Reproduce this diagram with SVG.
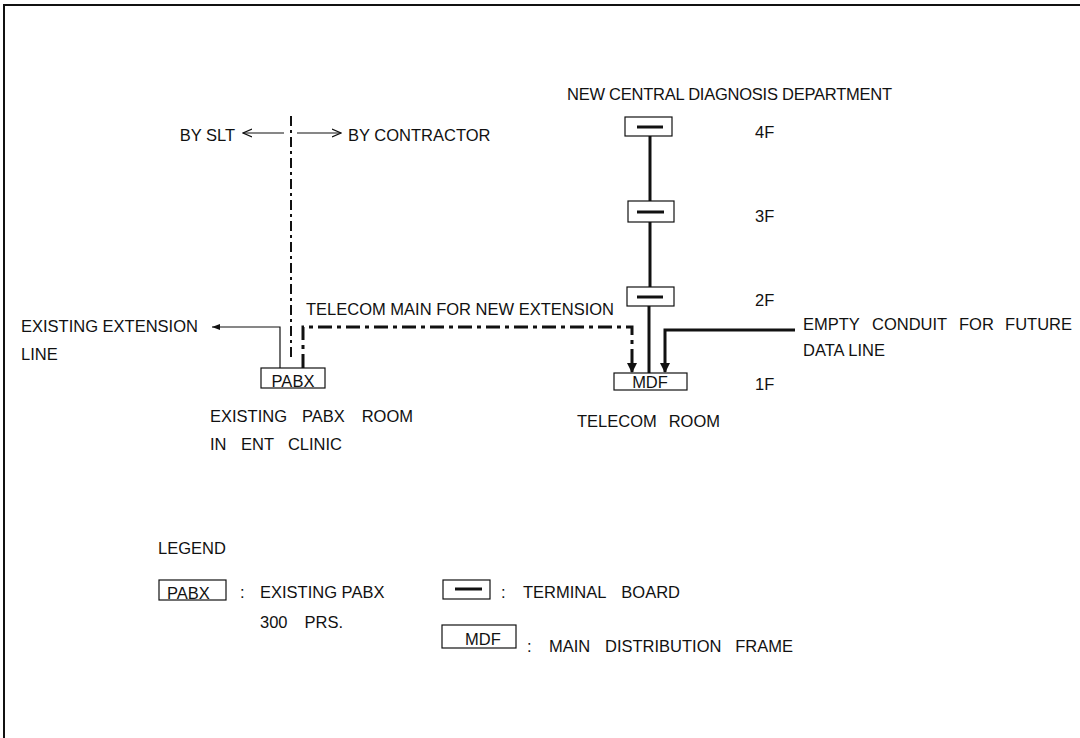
<svg xmlns="http://www.w3.org/2000/svg" width="1080" height="738" viewBox="0 0 1080 738">
<style>
text{font-family:"Liberation Sans",Arial,sans-serif;font-size:16.5px;fill:#111}
.e{text-anchor:end}
.m{text-anchor:middle}
.box{fill:#fff;stroke:#111;stroke-width:1.2}
.bar{stroke:#111;stroke-width:3}
.thin{stroke:#111;stroke-width:1.2;fill:none}
.thick{stroke:#111;stroke-width:3;fill:none}
.dd{stroke:#111;stroke-width:3;fill:none;stroke-dasharray:14,5,4,5}
.dv{stroke:#111;stroke-width:2;fill:none;stroke-dasharray:10,4,3,4}
</style>
<defs>
<marker id="fa" markerWidth="10" markerHeight="10" refX="9" refY="5" orient="auto" markerUnits="userSpaceOnUse"><path d="M0,0 L10,5 L0,10 Z" fill="#111"/></marker>
<marker id="fs" markerWidth="8" markerHeight="6" refX="8" refY="3" orient="auto" markerUnits="userSpaceOnUse"><path d="M0,0 L8,3 L0,6 Z" fill="#111"/></marker>
<marker id="oa" markerWidth="10" markerHeight="10" refX="9" refY="5" orient="auto" markerUnits="userSpaceOnUse"><path d="M0,1 L9,5 L0,9" fill="none" stroke="#111" stroke-width="1.2"/></marker>
</defs>
<rect width="1080" height="738" fill="#fff"/>
<path d="M4,738 V5 H1080" fill="none" stroke="#111" stroke-width="2"/>

<g id="connectors">
<line class="dv" x1="291" y1="116" x2="291" y2="360"/>
<line class="thin" x1="284" y1="133" x2="243" y2="133" marker-end="url(#oa)"/>
<line class="thin" x1="297" y1="133" x2="341" y2="133" marker-end="url(#oa)"/>
<path class="thin" d="M280,368 V327 H212" marker-end="url(#fs)"/>
<path class="dd" d="M303,368 V327 H632 V372" marker-end="url(#fa)"/>
<path class="thick" d="M795,330 H665 V372" marker-end="url(#fa)"/>
<line class="thick" x1="650" y1="136" x2="650" y2="201"/>
<line class="thick" x1="650" y1="222" x2="650" y2="287"/>
<line class="thick" x1="649" y1="306" x2="649" y2="373"/>
</g>

<g id="tb4F"><rect class="box" x="625" y="117" width="47" height="19"/><line class="bar" x1="637" y1="127" x2="663" y2="127"/></g>
<g id="tb3F"><rect class="box" x="628" y="201" width="46" height="21"/><line class="bar" x1="637" y1="212" x2="664" y2="212"/></g>
<g id="tb2F"><rect class="box" x="627" y="287" width="47" height="19"/><line class="bar" x1="637" y1="297" x2="663" y2="297"/></g>
<g id="mdf"><rect class="box" x="614" y="373" width="73" height="17"/><text class="m" x="650" y="388">MDF</text></g>
<g id="pabx"><rect class="box" x="261" y="368" width="64" height="20"/><text class="m" x="293" y="387">PABX</text></g>

<g id="labels">
<text x="567" y="100" textLength="325">NEW CENTRAL DIAGNOSIS DEPARTMENT</text>
<text class="e" x="235" y="141">BY SLT</text>
<text x="348" y="141">BY CONTRACTOR</text>
<text x="755" y="138">4F</text>
<text x="755" y="222">3F</text>
<text x="755" y="306">2F</text>
<text x="755" y="390">1F</text>
<text x="306" y="315">TELECOM MAIN FOR NEW EXTENSION</text>
<text x="21" y="332">EXISTING EXTENSION</text>
<text x="21" y="360">LINE</text>
<text x="803" y="330">EMPTY</text>
<text x="872" y="330">CONDUIT</text>
<text x="959" y="330">FOR</text>
<text class="e" x="1072" y="330">FUTURE</text>
<text x="803" y="356">DATA LINE</text>
<text x="210" y="422">EXISTING</text>
<text x="302" y="422">PABX</text>
<text class="e" x="413" y="422">ROOM</text>
<text x="210" y="450">IN</text>
<text x="241" y="450">ENT</text>
<text class="e" x="342" y="450">CLINIC</text>
<text x="577" y="427">TELECOM</text>
<text class="e" x="720" y="427">ROOM</text>
</g>

<g id="legend">
<text x="158" y="554">LEGEND</text>
<rect class="box" x="159" y="580" width="67" height="20"/>
<text x="167" y="599">PABX</text>
<text x="240" y="598">:</text>
<text x="260" y="598">EXISTING PABX</text>
<text x="260" y="628">300</text>
<text class="e" x="343" y="628">PRS.</text>
<rect class="box" x="443" y="580" width="47" height="19"/>
<line class="bar" x1="455" y1="589" x2="482" y2="589"/>
<text x="501" y="598">:</text>
<text x="523" y="598">TERMINAL</text>
<text class="e" x="680" y="598">BOARD</text>
<rect class="box" x="442" y="625" width="74" height="23"/>
<text x="465" y="645">MDF</text>
<text x="527" y="652">:</text>
<text x="549" y="652">MAIN</text>
<text x="605" y="652">DISTRIBUTION</text>
<text class="e" x="793" y="652">FRAME</text>
</g>
</svg>
